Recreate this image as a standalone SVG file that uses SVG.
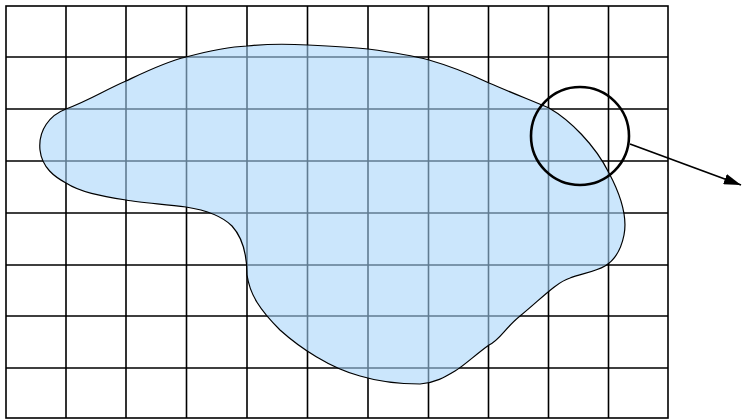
<svg xmlns="http://www.w3.org/2000/svg" width="742" height="420" viewBox="0 0 742 420">
<defs>
<style>
.grid{fill:none;stroke:#000;stroke-width:1.6}
.blob{fill:rgb(165,212,250);fill-opacity:0.58;stroke:#000;stroke-width:1.2}
.lens{fill:none;stroke:#000;stroke-width:2.6}
.conn{fill:none;stroke:#000;stroke-width:1.8}
</style>
<marker id="ah" viewBox="0 0 10 10" refX="10" refY="5" markerWidth="9.5" markerHeight="6" markerUnits="strokeWidth" orient="auto" preserveAspectRatio="none">
<path d="M0,0 L10,5 L0,10 Z" fill="#000"/>
</marker>
</defs>
<rect width="742" height="420" fill="#fff"/>
<g id="grid">
<rect class="grid" x="6" y="6" width="662" height="412"/>
<path class="grid" d="M66,6V418 M126,6V418 M186.5,6V418 M247,6V418 M307.5,6V418 M368,6V418 M428.5,6V418 M488.5,6V418 M548.5,6V418 M608.5,6V418 M6,57H668 M6,109H668 M6,161H668 M6,213H668 M6,265H668 M6,316H668 M6,368H668"/>
</g>
<g id="region">
<path class="blob" d="M40,150 C38,130 50,115 66,109 C90,100 105,90 126,81 C145,72 165,62 186,57 C205,52 225,47 247,46 C265,44 290,44 308,45 C330,46 350,47 368,49 C390,52 410,55 429,60 C450,66 470,74 489,83 C510,92 530,100 549,108 C570,120 595,145 609,173 C618,190 628,215 624,235 C621,250 615,260 605,266 C595,272 580,274 570,278 C555,283 540,300 520,316 C505,328 500,340 489,345 C475,355 465,365 455,371 C445,377 435,383 420,384 C400,384 380,382 360,376 C330,368 300,348 280,330 C260,310 250,295 247,275 C247,255 243,238 232,226 C222,216 205,210 186,207 C165,204 140,203 126,200 C100,196 80,192 66,183 C55,177 42,168 40,150 Z"/>
</g>
<g id="lens">
<circle class="lens" cx="580" cy="136" r="49"/>
</g>
<g id="connectors">
<path class="conn" d="M630,144 L741,185" marker-end="url(#ah)"/>
</g>
</svg>
